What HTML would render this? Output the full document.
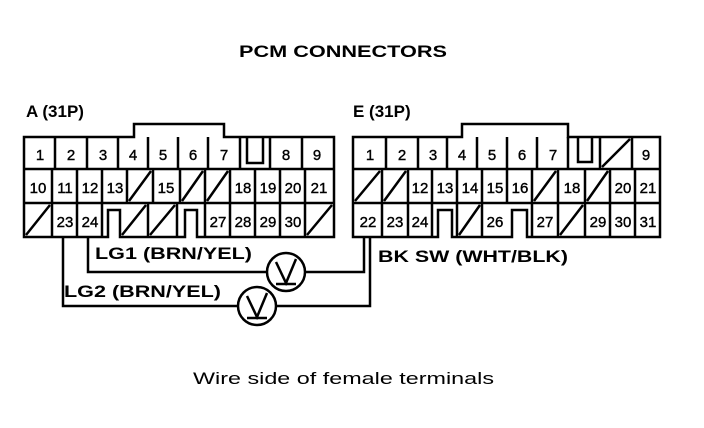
<!DOCTYPE html>
<html><head><meta charset="utf-8"><style>
html,body{margin:0;padding:0;background:#fff}
svg{display:block}
text{font-family:"Liberation Sans",sans-serif;fill:#000}
.n{font-size:15px;text-anchor:middle;stroke:#000;stroke-width:0.4}
.b{font-weight:bold;font-size:17px}
</style></head><body>
<svg width="704" height="428" viewBox="0 0 704 428" xmlns="http://www.w3.org/2000/svg">
<g fill="none" stroke="#000" stroke-width="2.5" stroke-linejoin="miter">
<path d="M24,137 H134 V124 H224 V137 H334 V237 H197 V210 H185 V237 H120 V210 H108 V237 H24 Z"/>
<path d="M24,169 H334 M24,203 H334"/>
<path d="M55,137V169 M87,137V169 M118,137V169 M148,137V169 M178,137V169 M208,137V169 M240,137V169 M270,137V169 M302,137V169"/>
<path d="M247,137 V163 H263 V137"/>
<path d="M52,169V203 M77,169V203 M102,169V203 M127,169V203 M153,169V203 M180,169V203 M205,169V203 M230,169V203 M255,169V203 M280,169V203 M305,169V203"/>
<path d="M129,201 L151,171 M182,201 L203,171 M207,201 L228,171"/>
<path d="M52,203V237 M77,203V237 M102,203V237 M148,203V237 M177,203V237 M205,203V237 M230,203V237 M255,203V237 M280,203V237 M305,203V237"/>
<path d="M26,235 L50,205 M122,235 L146,205 M150,235 L175,205 M307,235 L332,205"/>

<path d="M353,137 H462 V124 H568 V137 H660 V237 H527 V210 H512 V237 H452 V210 H438 V237 H353 Z"/>
<path d="M353,169 H660 M353,203 H660"/>
<path d="M386,137V169 M418,137V169 M447,137V169 M477,137V169 M507,137V169 M537,137V169 M568,137V169 M600,137V169 M632,137V169"/>
<path d="M578,137 V162 H592 V137"/>
<path d="M602,167 L630,139"/>
<path d="M382,169V203 M408,169V203 M432,169V203 M457,169V203 M482,169V203 M507,169V203 M532,169V203 M558,169V203 M585,169V203 M610,169V203 M635,169V203"/>
<path d="M355,201 L380,171 M384,201 L406,171 M534,201 L556,171 M587,201 L608,171"/>
<path d="M382,203V237 M408,203V237 M432,203V237 M457,203V237 M482,203V237 M532,203V237 M558,203V237 M585,203V237 M610,203V237 M635,203V237"/>
<path d="M459,235 L480,205 M560,235 L583,205"/>

<path d="M88,237 V272 H267 M305,272 H364 V237"/>
<path d="M63,237 V306 H238 M276,306 H370 V237"/>
<circle cx="286" cy="272" r="19"/>
<circle cx="257" cy="306" r="19"/>
<path d="M276,262 L286,283 L296,259 M276,284 H296"/>
<path d="M247,296 L257,317 L267,293 M247,318 H267"/>
</g>

<text x="239" y="57" class="b" font-size="18" textLength="208" lengthAdjust="spacingAndGlyphs">PCM CONNECTORS</text>
<text x="26" y="117" class="b">A (31P)</text>
<text x="353" y="117" class="b">E (31P)</text>
<text x="95" y="259" class="b" textLength="157" lengthAdjust="spacingAndGlyphs">LG1 (BRN/YEL)</text>
<text x="64" y="297" class="b" textLength="157" lengthAdjust="spacingAndGlyphs">LG2 (BRN/YEL)</text>
<text x="378" y="262" class="b" textLength="190" lengthAdjust="spacingAndGlyphs">BK SW (WHT/BLK)</text>
<text x="193" y="384" font-size="17" textLength="301" lengthAdjust="spacingAndGlyphs">Wire side of female terminals</text>

<g class="n">
<text x="40" y="160">1</text><text x="71" y="160">2</text><text x="103" y="160">3</text><text x="133" y="160">4</text><text x="163" y="160">5</text><text x="193" y="160">6</text><text x="224" y="160">7</text><text x="286" y="160">8</text><text x="317" y="160">9</text>
<text x="38" y="193">10</text><text x="65" y="193">11</text><text x="90" y="193">12</text><text x="115" y="193">13</text><text x="166" y="193">15</text><text x="243" y="193">18</text><text x="268" y="193">19</text><text x="293" y="193">20</text><text x="319" y="193">21</text>
<text x="65" y="227">23</text><text x="90" y="227">24</text><text x="218" y="227">27</text><text x="243" y="227">28</text><text x="268" y="227">29</text><text x="293" y="227">30</text>
<text x="370" y="160">1</text><text x="402" y="160">2</text><text x="433" y="160">3</text><text x="462" y="160">4</text><text x="492" y="160">5</text><text x="522" y="160">6</text><text x="553" y="160">7</text><text x="646" y="160">9</text>
<text x="420" y="193">12</text><text x="445" y="193">13</text><text x="470" y="193">14</text><text x="495" y="193">15</text><text x="520" y="193">16</text><text x="572" y="193">18</text><text x="623" y="193">20</text><text x="648" y="193">21</text>
<text x="368" y="227">22</text><text x="395" y="227">23</text><text x="420" y="227">24</text><text x="495" y="227">26</text><text x="545" y="227">27</text><text x="598" y="227">29</text><text x="623" y="227">30</text><text x="648" y="227">31</text>
</g>
</svg>
</body></html>
